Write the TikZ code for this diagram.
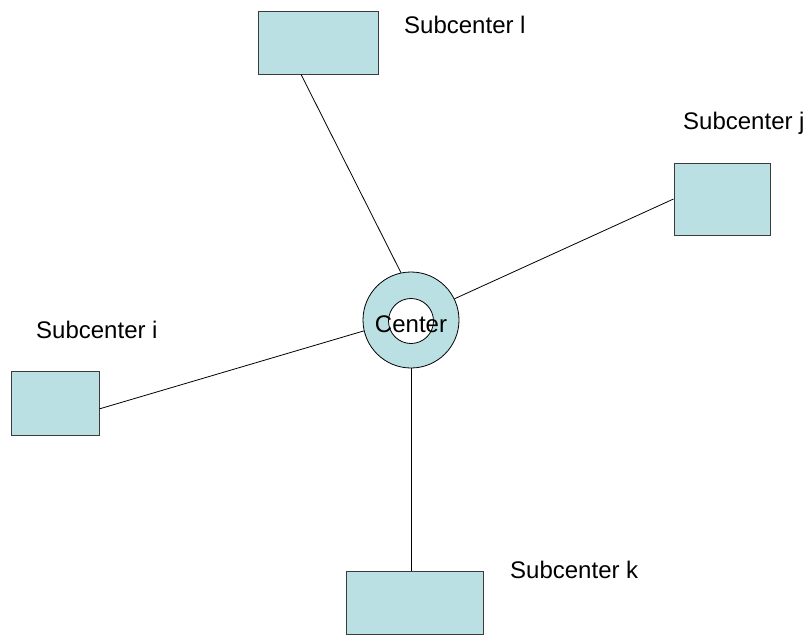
\documentclass[tikz,border=0pt]{standalone}
\usepackage{fontspec}
\setmainfont{Liberation Sans}
\usetikzlibrary{calc}
\definecolor{boxfill}{RGB}{187,224,227}
\definecolor{boxline}{RGB}{60,60,60}
\begin{document}
\begin{tikzpicture}[x=1pt,y=-1pt,
  subbox/.style={draw=boxline,fill=boxfill,line width=1pt,inner sep=0pt},
  lbl/.style={anchor=base west,inner sep=0pt,font=\fontsize{24}{28}\selectfont},
  conn/.style={draw=black,line width=0.8pt}]
\useasboundingbox (0,0) rectangle (808,637);
% boxes
\node[subbox,minimum width=120pt,minimum height=63pt] (lbox) at (318,42.5) {};
\node[subbox,minimum width=96pt,minimum height=72pt] (jbox) at (722,199) {};
\node[subbox,minimum width=88pt,minimum height=64pt] (ibox) at (55,403) {};
\node[subbox,minimum width=137pt,minimum height=63pt] (kbox) at (415,602.5) {};
% center
\node[circle,draw=black,fill=boxfill,line width=0.8pt,minimum size=96pt,inner sep=0pt] (c) at (411,320) {};
\node[circle,draw=black,fill=white,line width=0.8pt,minimum size=45pt,inner sep=0pt] (ci) at (411,321) {};
\node[lbl,anchor=base] (ctext) at (411,332) {Center};
% labels
\node[lbl] (tl) at (404,33) {Subcenter l};
\node[lbl] (tj) at (683,129) {Subcenter j};
\node[lbl] (ti) at (36,338) {Subcenter i};
\node[lbl] (tk) at (510,578) {Subcenter k};
% connectors
\draw[conn] ($(lbox.south west)!0.36!(lbox.south east)$) -- (c.102);
\draw[conn] (jbox.west) -- (c.26);
\draw[conn] ($(ibox.north east)!0.59!(ibox.south east)$) -- (c.193);
\draw[conn] (c.south) -- (c.south |- kbox.north);
\end{tikzpicture}
\end{document}
